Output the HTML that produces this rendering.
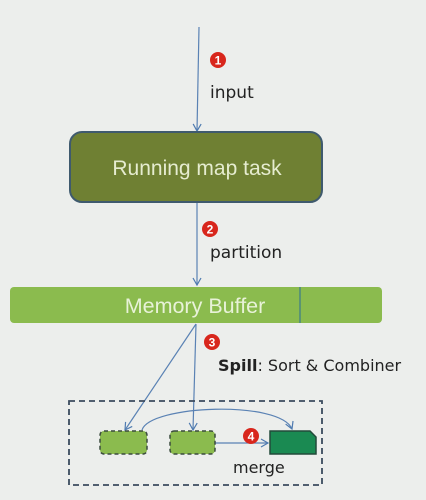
<!DOCTYPE html>
<html><head><meta charset="utf-8"><style>
body{margin:0;width:426px;height:496px;background:#eceeec;overflow:hidden;font-family:"DejaVu Sans","Liberation Sans",sans-serif}
</style></head><body>
<svg width="426" height="496" viewBox="0 0 426 496" xmlns="http://www.w3.org/2000/svg">
<defs><marker id="a" markerWidth="10" markerHeight="10" refX="8" refY="5" orient="auto" markerUnits="userSpaceOnUse"><path d="M1,1 L8,5 L1,9" fill="none" stroke="#4f7bb0" stroke-width="1.2"/></marker></defs>
<g stroke="#5a82b4" stroke-width="1.2" fill="none">
<line x1="199" y1="27" x2="197" y2="131" marker-end="url(#a)"/>
<line x1="197" y1="203" x2="197" y2="285" marker-end="url(#a)"/>
<line x1="196" y1="324" x2="125" y2="430" marker-end="url(#a)"/>
<line x1="196" y1="324" x2="193" y2="430" marker-end="url(#a)"/>
<path d="M142,430 C150,405 280,400 292,429" marker-end="url(#a)"/>
<line x1="215" y1="443" x2="268" y2="443" marker-end="url(#a)"/>
</g>
<rect x="70" y="132" width="252" height="70" rx="12" fill="#6f8033" stroke="#3f5a6e" stroke-width="2"/>
<text x="197" y="175" font-family="Liberation Sans,sans-serif" font-size="21" fill="#e6ecd0" text-anchor="middle">Running map task</text>
<rect x="10" y="287" width="372" height="36" rx="4" fill="#8bbb4e"/>
<line x1="300" y1="287" x2="300" y2="323" stroke="#3a7a8a" stroke-width="1.2"/>
<text x="195" y="313" font-family="Liberation Sans,sans-serif" font-size="21.5" fill="#e8f2d8" text-anchor="middle">Memory Buffer</text>
<rect x="69" y="401" width="253" height="84" fill="none" stroke="#3b4b5e" stroke-width="1.8" stroke-dasharray="6,4"/>
<rect x="100" y="431" width="47" height="23" rx="4" fill="#8bbb4e" stroke="#3b4b3e" stroke-width="1.5" stroke-dasharray="4,3"/>
<rect x="170" y="431" width="45" height="23" rx="4" fill="#8bbb4e" stroke="#3b4b3e" stroke-width="1.5" stroke-dasharray="4,3"/>
<path d="M270,431 H310 L316,437 V454 H270 Z" fill="#1a8a52" stroke="#224a3a" stroke-width="1.5"/>
<g font-family="Liberation Sans,sans-serif" font-weight="bold" font-size="12" fill="#fff" text-anchor="middle">
<circle cx="218" cy="60" r="8" fill="#d8261c"/><text x="218" y="64.5">1</text>
<circle cx="210" cy="229" r="8" fill="#d8261c"/><text x="210" y="233.5">2</text>
<circle cx="212" cy="342" r="8" fill="#d8261c"/><text x="212" y="346.5">3</text>
<circle cx="251" cy="436" r="8" fill="#d8261c"/><text x="251" y="440.5">4</text>
</g>
<g font-size="17" fill="#222">
<text x="210" y="98">input</text>
<text x="210" y="258">partition</text>
<text x="233" y="473" font-size="16">merge</text>
</g>
<text x="218" y="371" font-size="16" fill="#222"><tspan font-weight="bold">Spill</tspan>: Sort &amp; Combiner</text>
</svg>
</body></html>
